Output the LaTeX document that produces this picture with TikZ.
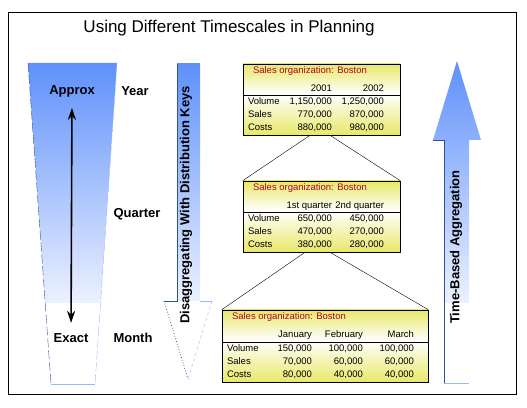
\documentclass[tikz,border=0pt]{standalone}
\usepackage{fontspec}
\setmainfont{Liberation Sans}
\usepackage{array}
\usepackage{tikz}
\usetikzlibrary{arrows.meta,positioning}

\definecolor{tabyellow}{RGB}{232,232,105}
\definecolor{orgred}{RGB}{180,0,45}
\definecolor{barblue}{RGB}{95,145,250}
\definecolor{barlight}{RGB}{236,241,255}
\definecolor{edgedark}{RGB}{50,80,150}
\definecolor{edgelight}{RGB}{150,185,250}

\pgfdeclareverticalshading{tableshade}{100bp}{color(0bp)=(tabyellow); color(25bp)=(tabyellow); color(54bp)=(white); color(75bp)=(tabyellow); color(100bp)=(tabyellow)}

\newcolumntype{L}[1]{>{\raggedright\arraybackslash}p{#1}}
\newcolumntype{R}[1]{>{\raggedleft\arraybackslash}p{#1}}
\setlength{\tabcolsep}{0pt}

\tikzset{
	tablebox/.style={draw, line width=0.6pt, inner sep=0pt, shading=tableshade, font=\fontsize{9.5}{13}\selectfont},
	sidelabel/.style={font=\fontsize{13}{15}\selectfont\bfseries},
}

\begin{document}
\begin{tikzpicture}[x=1pt,y=1pt]
	\useasboundingbox (0,0) rectangle (527,407);
	\draw[line width=0.8pt] (8,13) rectangle (516,395);
	\node (title)[font=\fontsize{17}{20}\selectfont] at (229,379){Using Different Timescales in Planning};

	% funnel on the left
	\shade[top color=barblue, bottom color=barlight] (28,344) -- (117,344) -- (100.6,104) -- (45.2,104) -- cycle;
	\draw[edgedark, dash pattern=on 9pt off 3pt] (28,344) -- (51,23);
	\draw[edgelight, dash pattern=on 9pt off 3pt] (117,344) -- (95,23);
	\draw[edgelight] (51,23) -- (95,23);

	% block arrow down
	\shade[top color=barblue, bottom color=barlight] (177,343) rectangle (200,106);
	\draw[edgedark] (177,343) -- (177,106) -- (164,106);
	\draw[edgedark, line width=0.8pt, dotted] (164,106) -- (188,28);
	\draw[edgelight, dashed] (212,106) -- (188,28);
	\draw[edgelight] (200,106) -- (212,106);

	% block arrow up
	\shade[top color=barblue, bottom color=barlight] (444,104) -- (444,267) -- (433,267) -- (457,346) -- (481,267) -- (469,267) -- (469,104) -- cycle;
	\draw[edgedark] (433,267) -- (444,267) -- (444,24);
	\draw[edgelight] (444,24) -- (469,24);

	\node (approx)[sidelabel] at (72,316){Approx};
	\node (exact)[sidelabel] at (71,69){Exact};
	\node (yearlbl)[sidelabel] at (135,316){Year};
	\node (quarterlbl)[sidelabel] at (137,193){Quarter};
	\node (monthlbl)[sidelabel] at (133,69){Month};
	\node (disagg)[sidelabel, rotate=90] at (186,202){Disaggregating With Distribution Keys};
	\node (aggreg)[sidelabel, rotate=90] at (456,160){Time-Based Aggregation};

	\node (yeartab)[tablebox, minimum width=157pt, minimum height=71pt] at (321.5,307.5){%
		\begin{tabular}{@{\hspace{5pt}}L{34pt}R{50pt}R{52pt}@{\hspace{16pt}}}
		\multicolumn{3}{@{\hspace{10pt}}l}{\textcolor{orgred}{Sales organization: Boston}}\\[5pt]
		& 2001 & 2002\\
		\hline
		Volume & 1,150,000 & 1,250,000\\
		Sales & 770,000 & 870,000\\
		Costs & 880,000 & 980,000\\
		\end{tabular}
	};

	\node (quartertab)[tablebox, minimum width=157pt, minimum height=71pt] at (321.5,190.5){%
		\begin{tabular}{@{\hspace{5pt}}L{34pt}R{50pt}R{52pt}@{\hspace{16pt}}}
		\multicolumn{3}{@{\hspace{10pt}}l}{\textcolor{orgred}{Sales organization: Boston}}\\[5pt]
		& 1st quarter & 2nd quarter\\
		\hline
		Volume & 650,000 & 450,000\\
		Sales & 470,000 & 270,000\\
		Costs & 380,000 & 280,000\\
		\end{tabular}
	};

	\node (monthtab)[tablebox, minimum width=206pt, minimum height=72pt] at (325,61){%
		\begin{tabular}{@{\hspace{5pt}}L{34pt}R{51pt}R{51pt}R{51pt}@{\hspace{14pt}}}
		\multicolumn{4}{@{\hspace{10pt}}l}{\textcolor{orgred}{Sales organization: Boston}}\\[5pt]
		& January & February & March\\
		\hline
		Volume & 150,000 & 100,000 & 100,000\\
		Sales & 70,000 & 60,000 & 60,000\\
		Costs & 80,000 & 40,000 & 40,000\\
		\end{tabular}
	};

	% draw the connections
	\draw[{Stealth[length=12pt,width=8pt]}-{Stealth[length=12pt,width=8pt]}, line width=1.6pt, shorten <=7.5pt, shorten >=7pt] (approx) -- (exact);
	\draw ([xshift=-11.5pt]yeartab.south) -- (quartertab.north west);
	\draw ([xshift=8.5pt]yeartab.south) -- (quartertab.north east);
	\draw ([xshift=-16.5pt]quartertab.south) -- (monthtab.north west);
	\draw ([xshift=8.5pt]quartertab.south) -- (monthtab.north east);
\end{tikzpicture}
\end{document}
